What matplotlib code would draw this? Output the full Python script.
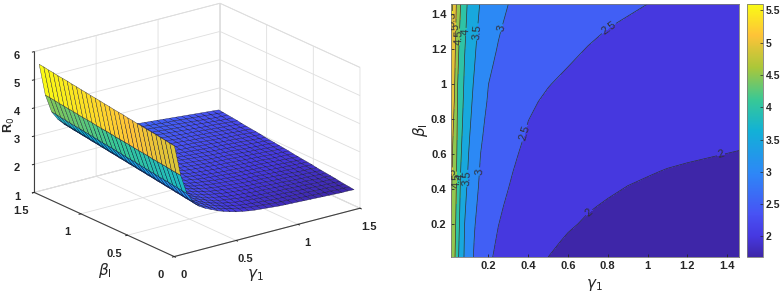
import numpy as np
import matplotlib
matplotlib.use("Agg")
import matplotlib.pyplot as plt
from matplotlib.colors import LinearSegmentedColormap, Normalize
from matplotlib.cm import ScalarMappable

plt.rcParams['font.family'] = ['Liberation Sans', 'DejaVu Sans']
plt.rcParams['mathtext.fontset'] = 'dejavusans'

# ---- surface (left panel): one list per gamma value, each running over beta_mesh
gamma_mesh = [0.01,0.06,0.11,0.16,0.21,0.26,0.31,0.36,0.41,0.46,0.51,0.56,0.61,0.66,0.71,
              0.76,0.81,0.86,0.91,0.96,1.01,1.06,1.11,1.16,1.21,1.26,1.31,1.36,1.41,1.46]
beta_mesh = [0.01,0.06,0.11,0.16,0.21,0.26,0.31,0.36,0.41,0.46,0.51,0.56,0.61,0.66,0.71,
             0.76,0.81,0.86,0.91,0.96,1.01,1.06,1.11,1.16,1.21,1.26,1.31,1.36,1.41,1.46]
r0_surface = [
[4.90,4.92,4.95,4.97,5.00,5.02,5.04,5.07,5.09,5.12,5.14,5.17,5.19,5.21,5.24,5.26,5.29,5.31,5.33,5.36,5.38,5.41,5.43,5.46,5.48,5.50,5.53,5.55,5.58,5.60],
[3.80,3.82,3.84,3.87,3.89,3.91,3.93,3.96,3.98,4.00,4.02,4.05,4.07,4.09,4.11,4.14,4.16,4.18,4.20,4.23,4.25,4.27,4.29,4.32,4.34,4.36,4.38,4.41,4.43,4.45],
[3.10,3.12,3.15,3.17,3.20,3.22,3.24,3.27,3.29,3.32,3.34,3.37,3.39,3.41,3.44,3.46,3.49,3.51,3.53,3.56,3.58,3.61,3.63,3.66,3.68,3.70,3.73,3.75,3.78,3.80],
[2.75,2.78,2.80,2.83,2.85,2.88,2.90,2.93,2.95,2.98,3.00,3.03,3.05,3.08,3.10,3.13,3.15,3.18,3.20,3.23,3.25,3.28,3.30,3.33,3.35,3.38,3.40,3.43,3.45,3.48],
[2.53,2.55,2.58,2.60,2.63,2.65,2.68,2.70,2.73,2.75,2.78,2.80,2.83,2.85,2.88,2.90,2.93,2.95,2.98,3.00,3.03,3.05,3.08,3.10,3.13,3.15,3.18,3.20,3.23,3.25],
[2.40,2.42,2.45,2.47,2.49,2.52,2.54,2.56,2.59,2.61,2.63,2.66,2.68,2.70,2.73,2.75,2.78,2.80,2.82,2.85,2.87,2.89,2.92,2.94,2.96,2.99,3.01,3.03,3.06,3.08],
[2.30,2.32,2.35,2.37,2.39,2.42,2.44,2.46,2.48,2.51,2.53,2.55,2.58,2.60,2.62,2.65,2.67,2.69,2.72,2.74,2.76,2.79,2.81,2.83,2.85,2.88,2.90,2.92,2.95,2.97],
[2.20,2.22,2.25,2.27,2.30,2.32,2.34,2.37,2.39,2.41,2.44,2.46,2.49,2.51,2.53,2.56,2.58,2.60,2.63,2.65,2.68,2.70,2.72,2.75,2.77,2.79,2.82,2.84,2.87,2.89],
[2.12,2.14,2.17,2.19,2.22,2.24,2.27,2.29,2.32,2.34,2.37,2.39,2.41,2.44,2.46,2.49,2.51,2.54,2.56,2.59,2.61,2.63,2.66,2.68,2.71,2.73,2.76,2.78,2.81,2.83],
[2.05,2.08,2.10,2.13,2.15,2.18,2.20,2.23,2.25,2.28,2.30,2.33,2.35,2.38,2.40,2.43,2.45,2.48,2.50,2.53,2.55,2.58,2.60,2.63,2.65,2.68,2.70,2.73,2.75,2.78],
[1.99,2.02,2.04,2.07,2.09,2.12,2.15,2.17,2.20,2.22,2.25,2.27,2.30,2.33,2.35,2.38,2.40,2.43,2.46,2.48,2.51,2.53,2.56,2.58,2.61,2.64,2.66,2.69,2.71,2.74],
[1.95,1.98,2.00,2.03,2.05,2.08,2.11,2.13,2.16,2.19,2.21,2.24,2.26,2.29,2.32,2.34,2.37,2.40,2.42,2.45,2.47,2.50,2.53,2.55,2.58,2.61,2.63,2.66,2.68,2.71],
[1.91,1.94,1.96,1.99,2.02,2.04,2.07,2.10,2.12,2.15,2.18,2.20,2.23,2.25,2.28,2.31,2.33,2.36,2.39,2.41,2.44,2.47,2.49,2.52,2.55,2.57,2.60,2.63,2.65,2.68],
[1.88,1.91,1.93,1.96,1.99,2.01,2.04,2.07,2.09,2.12,2.15,2.17,2.20,2.22,2.25,2.28,2.30,2.33,2.36,2.38,2.41,2.44,2.46,2.49,2.52,2.54,2.57,2.60,2.62,2.65],
[1.86,1.89,1.91,1.94,1.96,1.99,2.02,2.04,2.07,2.10,2.12,2.15,2.17,2.20,2.23,2.25,2.28,2.31,2.33,2.36,2.38,2.41,2.44,2.46,2.49,2.52,2.54,2.57,2.59,2.62],
[1.84,1.87,1.89,1.92,1.94,1.97,2.00,2.02,2.05,2.08,2.10,2.13,2.15,2.18,2.21,2.23,2.26,2.29,2.31,2.34,2.36,2.39,2.42,2.44,2.47,2.50,2.52,2.55,2.57,2.60],
[1.82,1.85,1.87,1.90,1.92,1.95,1.98,2.00,2.03,2.06,2.08,2.11,2.13,2.16,2.19,2.21,2.24,2.27,2.29,2.32,2.34,2.37,2.40,2.42,2.45,2.48,2.50,2.53,2.55,2.58],
[1.80,1.83,1.85,1.88,1.90,1.93,1.96,1.98,2.01,2.04,2.06,2.09,2.11,2.14,2.17,2.19,2.22,2.25,2.27,2.30,2.32,2.35,2.38,2.40,2.43,2.46,2.48,2.51,2.53,2.56],
[1.79,1.82,1.84,1.87,1.89,1.92,1.95,1.97,2.00,2.02,2.05,2.07,2.10,2.13,2.15,2.18,2.20,2.23,2.26,2.28,2.31,2.33,2.36,2.38,2.41,2.44,2.46,2.49,2.51,2.54],
[1.78,1.81,1.83,1.86,1.88,1.91,1.93,1.96,1.98,2.01,2.04,2.06,2.09,2.11,2.14,2.16,2.19,2.21,2.24,2.26,2.29,2.32,2.34,2.37,2.39,2.42,2.44,2.47,2.49,2.52],
[1.77,1.80,1.82,1.85,1.87,1.90,1.92,1.95,1.97,2.00,2.02,2.05,2.07,2.10,2.12,2.15,2.17,2.20,2.22,2.25,2.27,2.30,2.32,2.35,2.37,2.40,2.42,2.45,2.47,2.50],
[1.76,1.78,1.81,1.83,1.86,1.88,1.91,1.93,1.96,1.98,2.01,2.03,2.06,2.08,2.11,2.13,2.16,2.18,2.21,2.23,2.26,2.28,2.31,2.33,2.36,2.38,2.41,2.43,2.46,2.48],
[1.75,1.77,1.80,1.82,1.85,1.87,1.90,1.92,1.95,1.97,2.00,2.02,2.04,2.07,2.09,2.12,2.14,2.17,2.19,2.22,2.24,2.26,2.29,2.31,2.34,2.36,2.39,2.41,2.44,2.46],
[1.74,1.76,1.79,1.81,1.84,1.86,1.88,1.91,1.93,1.96,1.98,2.01,2.03,2.05,2.08,2.10,2.13,2.15,2.17,2.20,2.22,2.25,2.27,2.30,2.32,2.34,2.37,2.39,2.42,2.44],
[1.73,1.75,1.78,1.80,1.83,1.85,1.87,1.90,1.92,1.94,1.97,1.99,2.02,2.04,2.06,2.09,2.11,2.13,2.16,2.18,2.21,2.23,2.25,2.28,2.30,2.32,2.35,2.37,2.40,2.42],
[1.72,1.74,1.77,1.79,1.81,1.84,1.86,1.88,1.91,1.93,1.95,1.98,2.00,2.02,2.05,2.07,2.10,2.12,2.14,2.17,2.19,2.21,2.24,2.26,2.28,2.31,2.33,2.35,2.38,2.40],
[1.71,1.73,1.76,1.78,1.80,1.83,1.85,1.87,1.89,1.92,1.94,1.96,1.99,2.01,2.03,2.06,2.08,2.10,2.13,2.15,2.17,2.20,2.22,2.24,2.26,2.29,2.31,2.33,2.36,2.38],
[1.70,1.72,1.75,1.77,1.79,1.81,1.84,1.86,1.88,1.91,1.93,1.95,1.97,2.00,2.02,2.04,2.06,2.09,2.11,2.13,2.16,2.18,2.20,2.22,2.25,2.27,2.29,2.31,2.34,2.36],
[1.70,1.72,1.74,1.77,1.79,1.81,1.83,1.85,1.88,1.90,1.92,1.94,1.96,1.99,2.01,2.03,2.05,2.08,2.10,2.12,2.14,2.16,2.19,2.21,2.23,2.25,2.27,2.30,2.32,2.34],
[1.69,1.71,1.73,1.75,1.78,1.80,1.82,1.84,1.86,1.89,1.91,1.93,1.95,1.97,2.00,2.02,2.04,2.06,2.08,2.10,2.13,2.15,2.17,2.19,2.21,2.24,2.26,2.28,2.30,2.32],
]

# ---- contour map (right panel): one list per gamma value, each running over beta_contour
gamma_contour = [0.01,0.02,0.03,0.045,0.06,0.08,0.10,0.13,0.16,0.20,0.25,0.30,0.35,0.40,0.45,0.50,0.60,0.70,0.80,0.90,1.00,1.10,1.20,1.46]
beta_contour = [0.01,0.10,0.20,0.30,0.40,0.50,0.60,0.70,0.80,0.90,1.00,1.10,1.20,1.30,1.46]
r0_contour = [
[4.90,4.95,5.00,5.05,5.10,5.15,5.20,5.25,5.30,5.35,5.40,5.45,5.50,5.53,5.60],
[4.73,4.78,4.82,4.87,4.91,4.95,4.98,5.02,5.06,5.12,5.18,5.24,5.30,5.37,5.50],
[4.55,4.60,4.65,4.70,4.75,4.80,4.85,4.89,4.93,4.97,5.00,5.06,5.12,5.17,5.25],
[4.12,4.16,4.20,4.24,4.28,4.32,4.36,4.40,4.43,4.47,4.50,4.55,4.60,4.68,4.80],
[3.76,3.80,3.86,3.91,3.95,4.00,4.05,4.10,4.15,4.20,4.25,4.30,4.34,4.39,4.50],
[3.45,3.47,3.50,3.56,3.62,3.68,3.74,3.80,3.85,3.89,3.93,3.97,4.02,4.08,4.17],
[3.20,3.23,3.28,3.33,3.39,3.45,3.50,3.55,3.60,3.65,3.70,3.74,3.79,3.83,3.90],
[2.95,2.98,3.02,3.07,3.13,3.18,3.23,3.28,3.34,3.39,3.44,3.50,3.55,3.60,3.68],
[2.76,2.80,2.84,2.88,2.92,2.96,3.00,3.05,3.10,3.16,3.21,3.27,3.32,3.38,3.47],
[2.56,2.60,2.64,2.69,2.73,2.78,2.82,2.87,2.91,2.96,3.00,3.05,3.09,3.14,3.22],
[2.42,2.46,2.505,2.55,2.60,2.65,2.69,2.74,2.79,2.83,2.88,2.93,2.98,3.02,3.10],
[2.32,2.36,2.41,2.45,2.50,2.54,2.59,2.64,2.69,2.74,2.78,2.83,2.88,2.93,3.00],
[2.23,2.27,2.32,2.365,2.41,2.455,2.50,2.55,2.595,2.64,2.69,2.73,2.78,2.83,2.91],
[2.14,2.18,2.23,2.27,2.32,2.36,2.41,2.46,2.505,2.55,2.60,2.64,2.69,2.74,2.84],
[2.07,2.11,2.16,2.21,2.26,2.31,2.355,2.40,2.45,2.50,2.55,2.60,2.65,2.70,2.79],
[2.00,2.05,2.10,2.15,2.20,2.25,2.30,2.36,2.41,2.46,2.51,2.56,2.61,2.66,2.75],
[1.92,1.97,2.03,2.08,2.13,2.18,2.24,2.29,2.34,2.39,2.445,2.50,2.55,2.60,2.68],
[1.87,1.92,1.97,2.02,2.07,2.12,2.17,2.23,2.28,2.33,2.39,2.44,2.49,2.54,2.62],
[1.82,1.87,1.925,1.975,2.03,2.08,2.135,2.185,2.24,2.29,2.34,2.39,2.44,2.49,2.57],
[1.79,1.84,1.89,1.94,1.99,2.045,2.095,2.15,2.20,2.25,2.30,2.35,2.40,2.455,2.535],
[1.77,1.81,1.86,1.91,1.965,2.015,2.065,2.115,2.17,2.22,2.27,2.32,2.37,2.42,2.50],
[1.745,1.79,1.84,1.89,1.94,1.99,2.045,2.10,2.15,2.195,2.24,2.29,2.335,2.385,2.46],
[1.72,1.77,1.82,1.865,1.915,1.975,2.025,2.08,2.13,2.18,2.22,2.26,2.30,2.35,2.42],
[1.68,1.73,1.78,1.83,1.885,1.94,1.99,2.04,2.085,2.13,2.17,2.21,2.25,2.29,2.35],
]
contour_levels = [2, 2.5, 3, 3.5, 4, 4.5, 5, 5.5]
r0_min = 1.68
r0_max = 5.6

x_ticks_2d = [0.2, 0.4, 0.6, 0.8, 1.0, 1.2, 1.4]
x_labels_2d = ['0.2', '0.4', '0.6', '0.8', '1', '1.2', '1.4']
cbar_ticks = [2, 2.5, 3, 3.5, 4, 4.5, 5, 5.5]
cbar_labels = ['2', '2.5', '3', '3.5', '4', '4.5', '5', '5.5']
ticks_3d_xy = [0, 0.5, 1, 1.5]
labels_3d_xy = ['0', '0.5', '1', '1.5']
ticks_3d_z = [1, 2, 3, 4, 5, 6]

parula = LinearSegmentedColormap.from_list('parula', [
    (0.00, (0.2422, 0.1504, 0.6603)),
    (0.08, (0.2740, 0.2200, 0.8800)),
    (0.17, (0.2810, 0.3228, 0.9579)),
    (0.33, (0.1786, 0.5289, 0.9682)),
    (0.50, (0.0689, 0.6948, 0.8394)),
    (0.62, (0.2161, 0.7843, 0.5923)),
    (0.75, (0.6720, 0.7793, 0.2227)),
    (0.88, (0.9970, 0.7659, 0.2199)),
    (1.00, (0.9769, 0.9839, 0.0805)),
])
norm = Normalize(r0_min, r0_max)
ink = '#262626'

fig = plt.figure(figsize=(7.81, 2.93), dpi=100)
W, H = 781, 293

# ---------- left: 3-D surface ----------
S = 450
cx, cy = 191, 136
ax = fig.add_axes([(cx - S / 2) / W, 1 - (cy + S / 2) / H, S / W, S / H], projection='3d', computed_zorder=False)
ax.patch.set_visible(False)
ax.set_proj_type('ortho')
ax.view_init(elev=20.2, azim=-127)
ax.set_box_aspect((1, 1, 0.645), zoom=0.78)
G, B = np.meshgrid(gamma_mesh, beta_mesh, indexing='ij')
Z = np.array(r0_surface)
surf = ax.plot_surface(G, B, Z, facecolors=parula(norm(Z)), shade=False,
                       rstride=1, cstride=1, antialiased=True)
surf.set_edgecolor((0.05, 0.05, 0.15, 0.8))
surf.set_linewidth(0.3)
ax.set_xlim(0, 1.5, view_margin=0)
ax.set_ylim(0, 1.5, view_margin=0)
ax.set_zlim(1, 6, view_margin=0)
ax.set_xticks(ticks_3d_xy, labels_3d_xy)
ax.set_yticks(ticks_3d_xy, labels_3d_xy)
ax.set_zticks(ticks_3d_z)
for axis in (ax.xaxis, ax.yaxis, ax.zaxis):
    axis.set_pane_color((1, 1, 1, 1))
    axis.pane.set_edgecolor('#d9d9d9')
    axis.pane.set_linewidth(0.6)
    axis.line.set_color('#404040')
    axis.line.set_linewidth(0.8)
    axis._axinfo['grid'].update(color='#dedede', linewidth=0.6)
    axis._axinfo['tick'].update(inward_factor=0.12, outward_factor=0.0, linewidth={True: 0.7, False: 0.5})
ax.tick_params(labelsize=8, colors=ink)
ax.tick_params(axis='x', pad=3)
ax.tick_params(axis='y', pad=4)
ax.tick_params(axis='z', pad=1)
for lab in ax.get_xticklabels() + ax.get_yticklabels() + ax.get_zticklabels():
    lab.set_fontweight('bold')
fig.text(255 / W, 1 - 275 / H, r'$\gamma_1$', fontsize=11, color=ink, ha='center', va='center')
fig.text(105 / W, 1 - 270 / H, r'$\beta_{\mathrm{I}}$', fontsize=11, color=ink, ha='center', va='center')
fig.text(9 / W, 1 - 125 / H, r'R$_0$', fontsize=9, color=ink, rotation=90, ha='center', va='center', fontweight='bold')

# ---------- right: filled contour ----------
ax2 = fig.add_axes([450.7 / W, 1 - 257 / H, (739 - 450.7) / W, (257 - 4) / H])
bands = [r0_min] + contour_levels + [r0_max + 0.01]
band_colors = [parula(norm(v)) for v in bands[:-1]]
table = np.array(r0_contour).T
cf = ax2.contourf(gamma_contour, beta_contour, table, levels=bands, colors=band_colors)
cs = ax2.contour(gamma_contour, beta_contour, table, levels=contour_levels,
                 colors='#30303a', linewidths=0.5)
label_spots = [(0.80, 1.33), (0.38, 0.72), (0.71, 0.26), (1.37, 0.59), (0.27, 1.32), (0.155, 0.50),
               (0.14, 1.30), (0.09, 0.46), (0.085, 1.30), (0.065, 0.47), (0.055, 1.27), (0.045, 0.45),
               (0.04, 1.33), (0.025, 0.50), (0.02, 1.37)]
ax2.clabel(cs, manual=label_spots, fmt='%g', fontsize=8, inline=True, inline_spacing=1, colors='#30303a')
ax2.set_xlim(0.01, 1.46)
ax2.set_ylim(0.01, 1.46)
ax2.set_xticks(x_ticks_2d, x_labels_2d)
ax2.set_yticks([0.2, 0.4, 0.6, 0.8, 1.0, 1.2, 1.4], x_labels_2d)
ax2.tick_params(direction='in', length=2.5, width=0.6, labelsize=8, colors=ink, pad=3)
for lab in ax2.get_xticklabels() + ax2.get_yticklabels():
    lab.set_fontweight('bold')
for s in ax2.spines.values():
    s.set_color('#7a7a7a')
    s.set_linewidth(0.6)
ax2.set_xlabel(r'$\gamma_1$', fontsize=11, labelpad=4, color=ink)
ax2.set_ylabel(r'$\beta_{\mathrm{I}}$', fontsize=11, labelpad=1, color=ink)

cax = fig.add_axes([747.3 / W, 1 - 257 / H, (762.7 - 747.3) / W, (257 - 4) / H])
cb = fig.colorbar(ScalarMappable(norm=norm, cmap=parula), cax=cax)
cb.set_ticks(cbar_ticks, labels=cbar_labels)
cb.ax.tick_params(length=2, width=0.5, direction='in', labelsize=7.5, colors=ink, pad=2)
for lab in cb.ax.get_yticklabels():
    lab.set_fontweight('bold')
cb.outline.set_edgecolor('#7a7a7a')
cb.outline.set_linewidth(0.6)

fig.savefig('out.png', dpi=100)
